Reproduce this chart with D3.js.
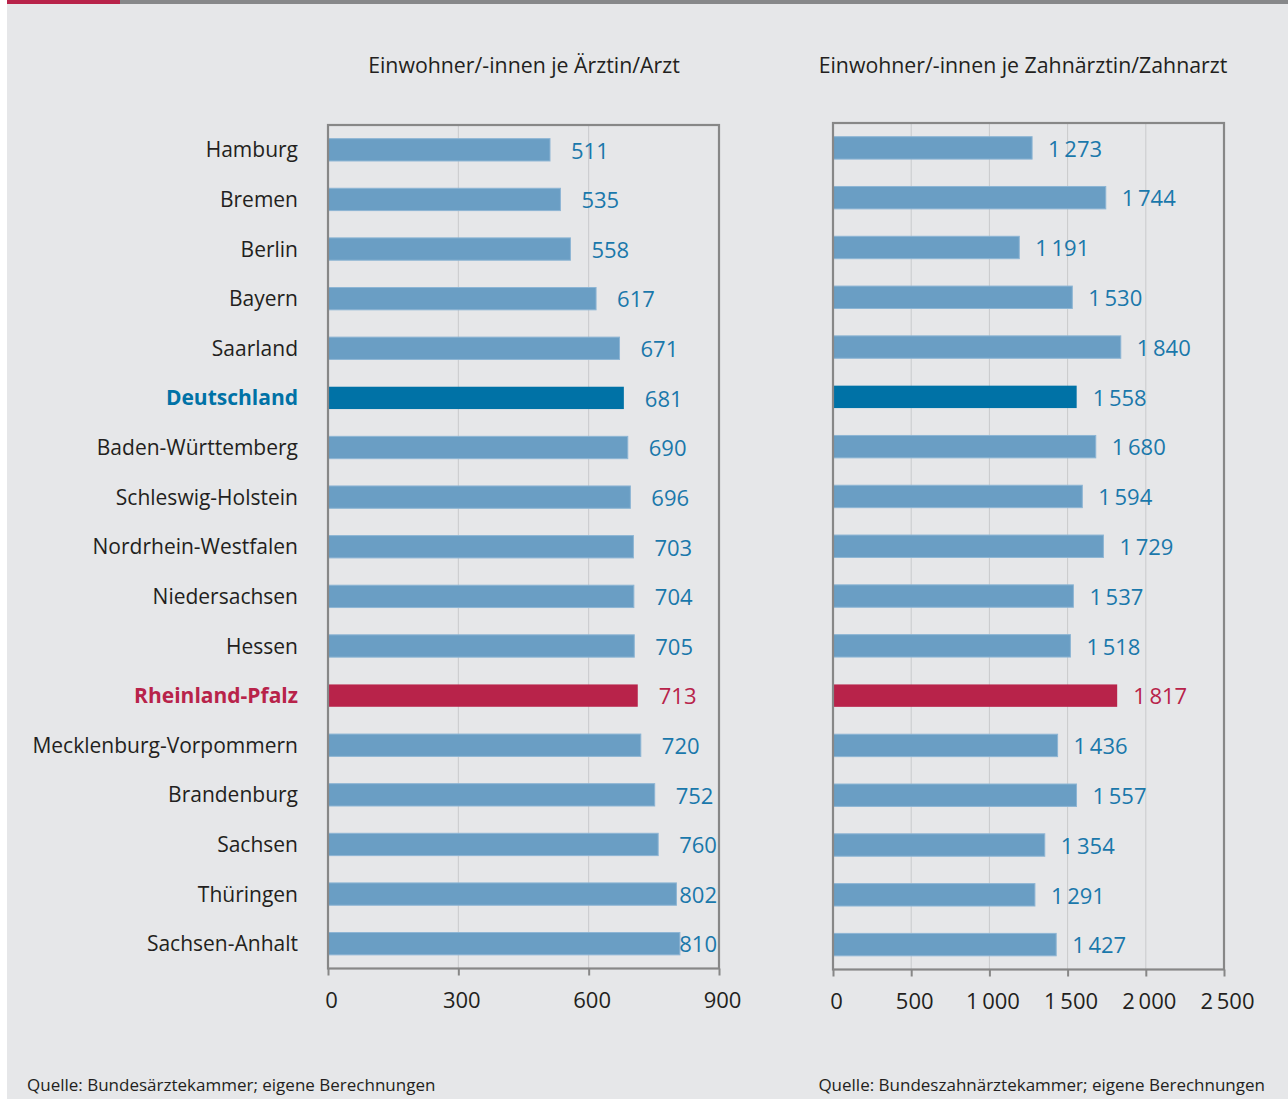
<!DOCTYPE html>
<html><head><meta charset="utf-8">
<script src="https://cdn.jsdelivr.net/npm/d3@7"></script>
<style>
html,body{margin:0;padding:0;background:#fff;}
svg{display:block;}
text{font-family:"Open Sans",sans-serif;}
</style></head>
<body>
<script>
const categories = ["Hamburg","Bremen","Berlin","Bayern","Saarland","Deutschland","Baden-Württemberg","Schleswig-Holstein","Nordrhein-Westfalen","Niedersachsen","Hessen","Rheinland-Pfalz","Mecklenburg-Vorpommern","Brandenburg","Sachsen","Thüringen","Sachsen-Anhalt"];
const aerzte = [511,535,558,617,671,681,690,696,703,704,705,713,720,752,760,802,810];
const zahnaerzte = [1273,1744,1191,1530,1840,1558,1680,1594,1729,1537,1518,1817,1436,1557,1354,1291,1427];
const ticksLeft = [0,300,600,900];
const ticksRight = [0,500,1000,1500,2000,2500];
const titleLeft = "Einwohner/-innen je Ärztin/Arzt";
const titleRight = "Einwohner/-innen je Zahnärztin/Zahnarzt";
const sourceLeft = "Quelle: Bundesärztekammer; eigene Berechnungen";
const sourceRight = "Quelle: Bundeszahnärztekammer; eigene Berechnungen";
const highlightDE = "Deutschland";
const highlightRP = "Rheinland-Pfalz";

const W = 1288, H = 1099;
const BG = "#e6e7e9", FRAME = "#878787", GRID = "#c9cacc";
const BAR = "#6a9ec4", BAR_DE = "#0072a6", BAR_RP = "#b8234a";
const LBL = "#1a78ab", TXT = "#231f20";

const svg = d3.select("body").append("svg").attr("width", W).attr("height", H);
svg.append("rect").attr("x",7).attr("y",0).attr("width",W-7).attr("height",H).attr("fill",BG);
svg.append("rect").attr("x",120).attr("y",0).attr("width",W-120).attr("height",4).attr("fill","#87888a");
svg.append("rect").attr("x",7).attr("y",0).attr("width",113).attr("height",4).attr("fill","#b8234a");

const fmt = v => {
  const s = String(v);
  return s.length > 3 ? s.slice(0, s.length-3) + "\u2009" + s.slice(-3) : s;
};
function colorOf(c){ return c===highlightDE ? BAR_DE : (c===highlightRP ? BAR_RP : BAR); }

function panel(opts){
  const {x0,x1,y0,y1,max,ticks,values,gap,title,titleX,showCats} = opts;
  const x = d3.scaleLinear().domain([0,max]).range([x0,x1]);
  const y = d3.scaleBand().domain(categories).range([y0,y1]).paddingInner(0.55).paddingOuter(0.275);
  const g = svg.append("g");
  g.selectAll("line.grid").data(ticks.slice(1,-1)).join("line")
    .attr("x1",d=>x(d)).attr("x2",d=>x(d)).attr("y1",y0).attr("y2",y1)
    .attr("stroke",GRID).attr("stroke-width",1);
  g.selectAll("rect.bar").data(categories).join("rect")
    .attr("x",x(0)).attr("y",d=>y(d)).attr("height",y.bandwidth())
    .attr("width",(d,i)=>x(values[i])-x(0))
    .attr("fill",d=>colorOf(d))
    .attr("stroke",d=>colorOf(d)===BAR?"#8db5d4":"none").attr("stroke-width",1);
  g.append("rect").attr("x",x0).attr("y",y0).attr("width",x1-x0).attr("height",y1-y0)
    .attr("fill","none").attr("stroke",FRAME).attr("stroke-width",2.2);
  const ax = g.append("g").attr("transform",`translate(0,${y1})`)
    .call(d3.axisBottom(x).tickValues(ticks).tickFormat(fmt).tickSize(7).tickPadding(17));
  ax.select(".domain").remove();
  ax.selectAll(".tick line").attr("stroke",FRAME).attr("stroke-width",2);
  ax.selectAll(".tick text").attr("fill",TXT).attr("dx",3).style("font-size","22px").style("font-family","'Open Sans',sans-serif");
  const lbls = g.selectAll("text.val").data(categories).join("text")
    .attr("class","val")
    .attr("y",d=>y(d)+y.bandwidth()/2).attr("dy","0.4em")
    .attr("fill",d=>d===highlightRP?BAR_RP:LBL)
    .style("font-size","22px")
    .text((d,i)=>fmt(values[i]));
  lbls.each(function(d,i){
    const w = this.getComputedTextLength();
    const xx = Math.min(x(values[i]) + gap, x1 - w - 2);
    d3.select(this).attr("x", xx);
  });
  if (showCats){
    g.selectAll("text.cat").data(categories).join("text")
      .attr("x",x0-30).attr("y",d=>y(d)+y.bandwidth()/2).attr("dy","0.36em")
      .attr("text-anchor","end")
      .attr("fill",d=>d===highlightDE?BAR_DE:(d===highlightRP?BAR_RP:TXT))
      .style("font-weight",d=>(d===highlightDE||d===highlightRP)?"700":"400")
      .style("font-size","21px")
      .text(d=>d);
  }
  svg.append("text").attr("x",titleX).attr("y",73).attr("text-anchor","middle")
    .attr("fill",TXT).style("font-size","21.3px").text(title);
}

panel({x0:328,x1:719,y0:125,y1:968.5,max:900,ticks:ticksLeft,values:aerzte,gap:21,title:titleLeft,titleX:524,showCats:true});
panel({x0:833,x1:1224,y0:123,y1:969.5,max:2500,ticks:ticksRight,values:zahnaerzte,gap:16,title:titleRight,titleX:1023,showCats:false});

svg.append("text").attr("x",27).attr("y",1091).attr("fill",TXT).style("font-size","17px").text(sourceLeft);
svg.append("text").attr("x",1265).attr("y",1091).attr("text-anchor","end").attr("fill",TXT).style("font-size","17px").text(sourceRight);
</script>
</body></html>
